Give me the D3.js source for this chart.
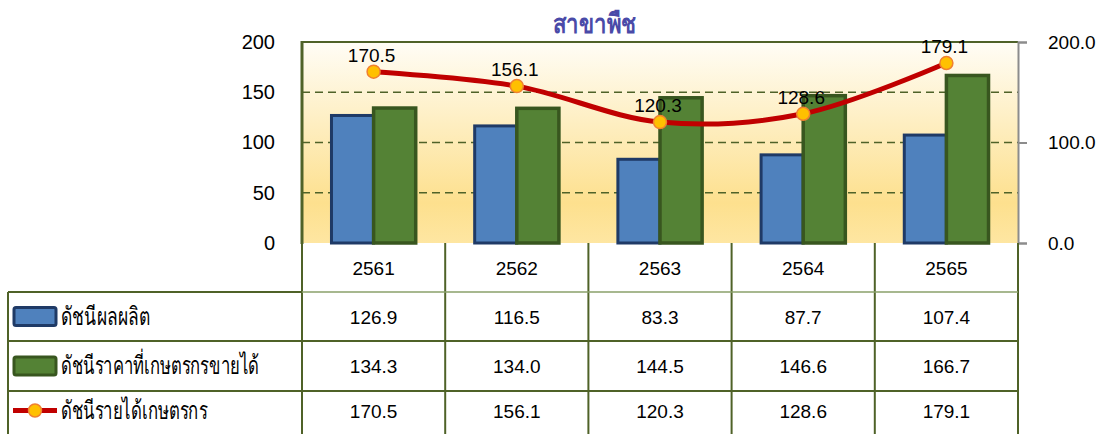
<!DOCTYPE html>
<html><head><meta charset="utf-8">
<script src="https://cdn.jsdelivr.net/npm/d3@7"></script>
<style>
html,body{margin:0;padding:0;background:#fff;}
svg{display:block;}
text{font-family:Tahoma,"Liberation Sans",Arial,sans-serif;}
</style></head>
<body>
<svg id="chart" width="1102" height="434"></svg>
<script>
const title = "สาขาพืช";
const years = ["2561","2562","2563","2564","2565"];
const production = [126.9,116.5,83.3,87.7,107.4];
const price = [134.3,134.0,144.5,146.6,166.7];
const income = [170.5,156.1,120.3,128.6,179.1];
const seriesNames = ["ดัชนีผลผลิต","ดัชนีราคาที่เกษตรกรขายได้","ดัชนีรายได้เกษตรกร"];
const leftTicks = [0,50,100,150,200];
const rightTicks = [0,100,200];

const FONT = "Tahoma,'Liberation Sans',Arial,sans-serif";
const svg = d3.select("#chart");
const L=302, R=1018, T=42, B=243;
const tableLeft=8;
const rowEdges=[243,292,341,391,436];
const legendWidths=[88,197,146];

const x = d3.scaleBand().domain(years).range([L,R]);
const y = d3.scaleLinear().domain([0,200]).range([B,T]);
const yR = d3.scaleLinear().domain([0,200]).range([B,T]);
const inner = d3.scaleBand().domain(["p","q"]).range([0,x.bandwidth()]).paddingOuter(0.70).paddingInner(0);

// fit a text horizontally by scaling the glyphs
function fitText(sel, tx, ty, width){
  const n = sel.node().getComputedTextLength();
  const s = Math.min(1, width / n);
  sel.attr("x",0).attr("y",0).attr("transform",`translate(${tx},${ty}) scale(${s},1)`);
}

// gradient
const defs = svg.append("defs");
const g = defs.append("linearGradient").attr("id","bg").attr("x1",0).attr("y1",0).attr("x2",0).attr("y2",1);
g.append("stop").attr("offset","0%").attr("stop-color","#fffdf6");
g.append("stop").attr("offset","80%").attr("stop-color","#fde08e");
g.append("stop").attr("offset","100%").attr("stop-color","#fee6a2");
svg.append("rect").attr("x",L).attr("y",T).attr("width",R-L).attr("height",B-T).attr("fill","url(#bg)");

// gridlines
svg.append("g").selectAll("line").data([50,100,150]).join("line")
  .attr("x1",L).attr("x2",R).attr("y1",d=>y(d)).attr("y2",d=>y(d))
  .attr("stroke","#4f6228").attr("stroke-width",1.5).attr("stroke-dasharray","8,5");

// borders
svg.append("line").attr("x1",L).attr("x2",R).attr("y1",T).attr("y2",T).attr("stroke","#4f6228").attr("stroke-width",2);
svg.append("line").attr("x1",L).attr("x2",L).attr("y1",T-1).attr("y2",B+1).attr("stroke","#4f6228").attr("stroke-width",3);

// bars
const bars = svg.append("g");
years.forEach((yr,i)=>{
  const x0 = x(yr);
  bars.append("rect").attr("x",x0+inner("p")).attr("y",y(production[i]))
    .attr("width",inner.bandwidth()).attr("height",B-y(production[i]))
    .attr("fill","#4f81bd").attr("stroke","#1f3a66").attr("stroke-width",3);
  bars.append("rect").attr("x",x0+inner("q")).attr("y",y(price[i]))
    .attr("width",inner.bandwidth()).attr("height",B-y(price[i]))
    .attr("fill","#548235").attr("stroke","#38561f").attr("stroke-width",3.5);
});

// right axis
const rax = d3.axisRight(yR).tickValues(rightTicks).tickSize(9).tickFormat(d3.format(".1f"));
const ra = svg.append("g").attr("transform",`translate(${R},0)`).call(rax);
ra.select(".domain").attr("stroke","#8c8c8c").attr("stroke-width",2);
ra.selectAll(".tick line").attr("stroke","#8c8c8c").attr("stroke-width",2);
ra.selectAll(".tick text").attr("x",30).attr("font-size",19).attr("fill","#000").attr("font-family",FONT);

// left axis
const lax = d3.axisLeft(y).tickValues(leftTicks).tickSize(0);
const la = svg.append("g").attr("transform",`translate(${L},0)`).call(lax);
la.select(".domain").remove();
la.selectAll(".tick text").attr("x",-27).attr("font-size",20).attr("fill","#000").attr("font-family",FONT);

// line
const cx = d=>x(d)+x.bandwidth()/2;
const line = d3.line().x((d,i)=>cx(years[i])).y(d=>yR(d)).curve(d3.curveCatmullRom.alpha(0.5));
svg.append("path").datum(income).attr("d",line).attr("fill","none").attr("stroke","#c00000").attr("stroke-width",5);
svg.append("g").selectAll("circle").data(income).join("circle")
  .attr("cx",(d,i)=>cx(years[i])).attr("cy",d=>yR(d)).attr("r",6.5)
  .attr("fill","#ffc000").attr("stroke","#f08030").attr("stroke-width",1.5);
svg.append("g").selectAll("text").data(income).join("text")
  .attr("x",(d,i)=>cx(years[i])-2).attr("y",d=>yR(d)-10)
  .attr("text-anchor","middle").attr("font-size",19).attr("fill","#000")
  .text(d=>d.toFixed(1));

// title
const tt = svg.append("text").attr("font-size",27).attr("font-weight","bold").attr("fill","#4a4aa8").text(title);
fitText(tt, 553, 33, 82);

// table
const tcol="#4f6228";
const tg = svg.append("g");
const colEdges = years.map(d=>x(d)).concat([R]);
colEdges.forEach(cxv=>{
  tg.append("line").attr("x1",cxv).attr("x2",cxv).attr("y1",B).attr("y2",rowEdges[4]).attr("stroke",tcol).attr("stroke-width",2);
});
tg.append("line").attr("x1",tableLeft).attr("x2",tableLeft).attr("y1",rowEdges[1]).attr("y2",rowEdges[4]).attr("stroke",tcol).attr("stroke-width",2);
tg.append("line").attr("x1",L).attr("x2",R).attr("y1",rowEdges[1]).attr("y2",rowEdges[1]).attr("stroke","#8aa06a").attr("stroke-width",1.5);
tg.append("line").attr("x1",tableLeft).attr("x2",L).attr("y1",rowEdges[1]).attr("y2",rowEdges[1]).attr("stroke",tcol).attr("stroke-width",2);
[2,3].forEach(k=>{
  tg.append("line").attr("x1",tableLeft).attr("x2",R).attr("y1",rowEdges[k]).attr("y2",rowEdges[k]).attr("stroke",tcol).attr("stroke-width",2);
});

tg.selectAll("text.yr").data(years).join("text").attr("class","yr")
  .attr("x",d=>cx(d)).attr("y",(rowEdges[0]+rowEdges[1])/2+7).attr("text-anchor","middle")
  .attr("font-size",19).attr("fill","#000").text(d=>d);

const rows=[production,price,income];
rows.forEach((arr,r)=>{
  const yc=(rowEdges[r+1]+rowEdges[r+2])/2 - (r===2?3:0);
  tg.append("g").selectAll("text").data(arr).join("text")
    .attr("x",(d,i)=>cx(years[i])).attr("y",yc+7).attr("text-anchor","middle")
    .attr("font-size",19).attr("fill","#000").text(d=>d.toFixed(1));
  const lt = tg.append("text").attr("font-size",25).attr("fill","#000").text(seriesNames[r]);
  fitText(lt, 61, yc+8, legendWidths[r]);
});
const yc0=(rowEdges[1]+rowEdges[2])/2, yc1=(rowEdges[2]+rowEdges[3])/2, yc2=(rowEdges[3]+rowEdges[4])/2-3;
tg.append("rect").attr("x",14).attr("y",yc0-9).attr("width",42).attr("height",18).attr("rx",2)
  .attr("fill","#4f81bd").attr("stroke","#1f3a66").attr("stroke-width",3);
tg.append("rect").attr("x",14).attr("y",yc1-9).attr("width",42).attr("height",18).attr("rx",2)
  .attr("fill","#548235").attr("stroke","#38561f").attr("stroke-width",3);
tg.append("line").attr("x1",13).attr("x2",57).attr("y1",yc2).attr("y2",yc2).attr("stroke","#c00000").attr("stroke-width",5);
tg.append("circle").attr("cx",35).attr("cy",yc2).attr("r",6.5).attr("fill","#ffc000").attr("stroke","#f08030").attr("stroke-width",1.5);
</script>
</body></html>
